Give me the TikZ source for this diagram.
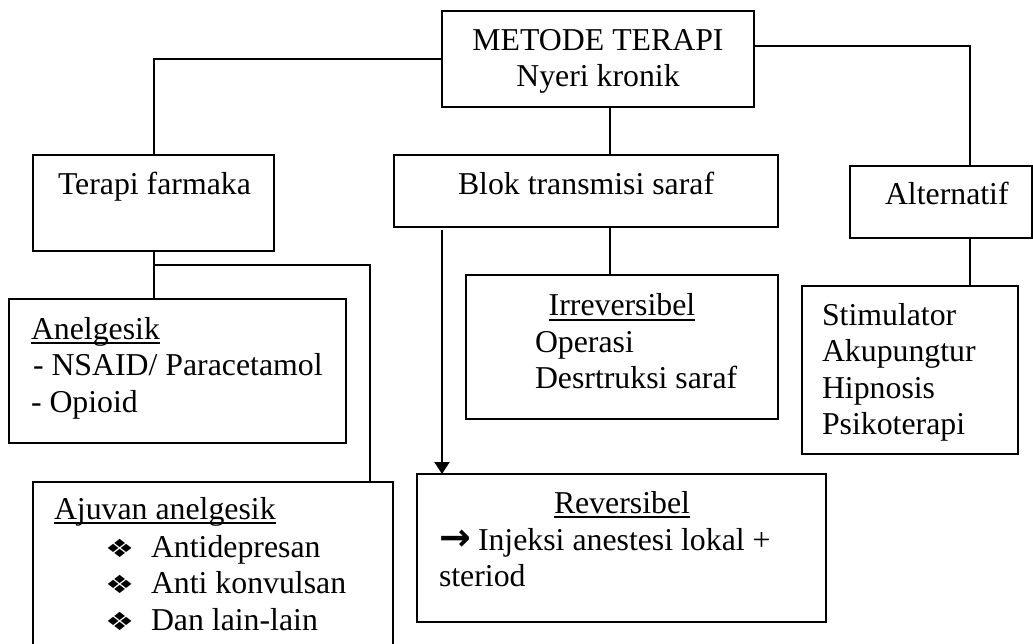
\documentclass[tikz,border=0pt]{standalone}
\usepackage{fontspec}
\usepackage{graphicx}
\setmainfont{Liberation Serif}
\newfontfamily\symfont{DejaVu Sans}
\usetikzlibrary{arrows.meta}

% underline drawn close to the baseline, through the descenders
\newsavebox\ulinebox
\newcommand\ulin[1]{\sbox\ulinebox{#1}\rlap{\rule[-4.6pt]{\wd\ulinebox}{1.6pt}}\usebox\ulinebox}
% stacked lines, left aligned / centred, first baseline is the node baseline
\newcommand\rows[1]{\vtop{\baselineskip=36.6pt\lineskiplimit=-100pt\lineskip=0pt\halign{##\hfil\cr#1\crcr}}}
\newcommand\crows[1]{\vtop{\baselineskip=36pt\lineskiplimit=-100pt\lineskip=0pt\halign{\hfil##\hfil\cr#1\crcr}}}
\newcommand\bul{\makebox[46pt][l]{\scalebox{1.3}[1]{\symfont\fontsize{25}{25}\selectfont ❖}}}
\newcommand\rarr{\makebox[39pt][l]{\symfont\bfseries\fontsize{38}{38}\selectfont →}}

\begin{document}
\begin{tikzpicture}[x=1pt,y=-1pt,
  box/.style={draw, line width=2pt, inner sep=0pt, outer sep=0pt, anchor=north west},
  txt/.style={inner sep=0pt, outer sep=0pt, anchor=base west, font=\fontsize{31.8}{36.6}\selectfont},
  link/.style={line width=2pt}]
\clip (0,0) rectangle (1033,644);

% boxes
\node[box, minimum width=312pt, minimum height=96pt]  (metode) at (442,11)  {};
\node[box, minimum width=241pt, minimum height=96pt]  (terapi) at (33,155)  {};
\node[box, minimum width=384pt, minimum height=72pt]  (blok)   at (394,155) {};
\node[box, minimum width=182pt, minimum height=72pt]  (alt)    at (850,166) {};
\node[box, minimum width=337pt, minimum height=144pt] (anel)   at (9,299)   {};
\node[box, minimum width=312pt, minimum height=144pt] (irr)    at (466,275) {};
\node[box, minimum width=216pt, minimum height=168pt] (stim)   at (802,286) {};
\node[box, minimum width=360pt, minimum height=200pt] (aju)    at (33,482)  {};
\node[box, minimum width=409pt, minimum height=148pt] (rev)    at (417,474) {};

% connectors
\draw[link] (metode.west) -| (terapi.north);
\draw[link] ([yshift=13pt]metode.east) -| ([xshift=29pt]alt.north);
\draw[link] ([xshift=12pt]metode.south) -- ([xshift=12pt]metode.south |- blok.north);
\draw[link] ([xshift=24pt]blok.south) -- ([xshift=24pt]blok.south |- irr.north);
\draw[link, -{Triangle[width=15pt,length=12pt]}]
  ([xshift=48pt,yshift=-3pt]blok.south west) -- ([xshift=48pt]blok.south west |- rev.north);
\draw[link] (terapi.south) -- (terapi.south |- anel.north);
\draw[link] ([yshift=-14pt]terapi.south) -| ([xshift=-23pt]aju.north east);
\draw[link] ([xshift=29pt]alt.south) -- ([xshift=29pt]alt.south |- stim.north);

% texts
\node[txt, anchor=base] (t-metode) at (598,51) {\crows{METODE TERAPI\cr Nyeri kronik}};
\node[txt] (t-terapi) at (58,195)  {Terapi farmaka};
\node[txt] (t-blok)   at (458,195) {Blok transmisi saraf};
\node[txt] (t-alt)    at (885,205) {Alternatif};
\node[txt] (t-anel)   at (31,339)  {\rows{\ulin{Anelgesik}\cr \hskip2pt- NSAID/ Paracetamol\cr - Opioid}};
\node[txt] (t-aju)    at (54,519)  {\ulin{Ajuvan anelgesik}};
\node[txt] (t-ajulist) at (105,557) {\rows{\bul Antidepresan\cr \bul Anti konvulsan\cr \bul Dan lain-lain}};
\node[txt, anchor=base] (t-irr) at (622,316) {\ulin{Irreversibel}};
\node[txt] (t-irrlist) at (535,352) {\rows{Operasi\cr Desrtruksi saraf}};
\node[txt] (t-stim)   at (822,325) {\rows{Stimulator\cr Akupungtur\cr Hipnosis\cr Psikoterapi}};
\node[txt, anchor=base] (t-rev) at (622,513) {\ulin{Reversibel}};
\node[txt] (t-revlist) at (439,550) {\rows{\rarr Injeksi anestesi lokal +\cr steriod}};
\end{tikzpicture}
\end{document}
